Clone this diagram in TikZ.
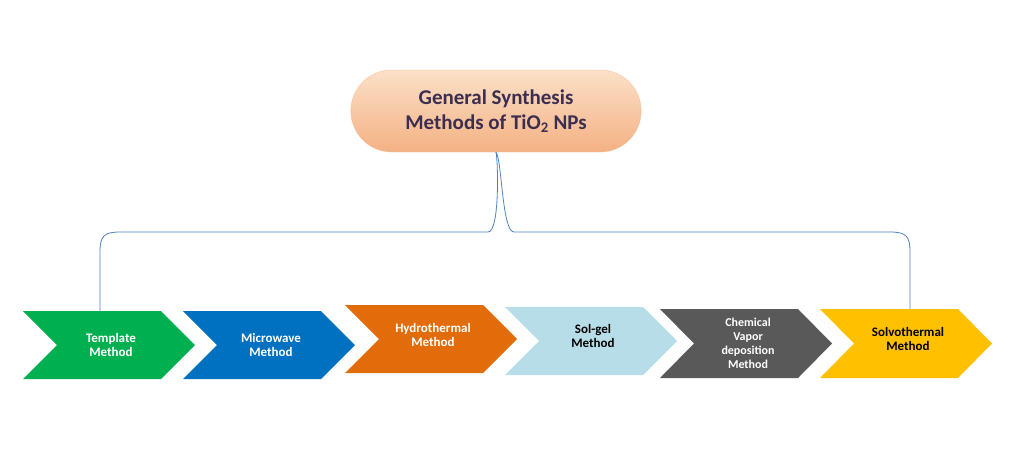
\documentclass[tikz,border=0pt]{standalone}
\usepackage{fontspec}
\setmainfont{Carlito}
\usetikzlibrary{shapes.misc,calc}
\definecolor{peachA}{HTML}{FBE0C8}
\definecolor{peachB}{HTML}{F4B183}
\definecolor{ttl}{HTML}{3B2E50}
\definecolor{cgreen}{HTML}{00B050}
\definecolor{cblue}{HTML}{0070C0}
\definecolor{corange}{HTML}{E36C0A}
\definecolor{clight}{HTML}{B7DEE8}
\definecolor{cgray}{HTML}{595959}
\definecolor{cyellow}{HTML}{FFC000}
\definecolor{lnk}{HTML}{4F81BD}
\begin{document}
\begin{tikzpicture}[x=1pt,y=-1pt,
  lab/.style={font=\bfseries\fontsize{13}{14}\selectfont,text=white,align=center},
  link/.style={draw=lnk,line width=0.8pt}]
\useasboundingbox (0,0) rectangle (1016,469);
\newcommand\chev[5]{% x0 ytop ybot color name
  \fill[#4] (#1,#2) -- ({#1+138},#2) -- ({#1+172},{(#2+#3)/2}) -- ({#1+138},#3) -- (#1,#3) -- ({#1+34},{(#2+#3)/2}) -- cycle;
  \coordinate (#5) at ({#1+88},{(#2+#3)/2});}
\node[rounded rectangle,minimum width=297pt,minimum height=82pt,top color=peachA,bottom color=peachB,draw=peachB!80!white,
  font=\bfseries\fontsize{21}{25}\selectfont,text=ttl,align=center] (top) at (496,111)
  {General Synthesis\\Methods of TiO\textsubscript{2} NPs};
\chev{23}{311}{379}{cgreen}{c1}
\chev{183}{311}{379}{cblue}{c2}
\chev{345}{305}{373}{corange}{c3}
\chev{505}{307}{375}{clight}{c4}
\chev{660}{309}{378}{cgray}{c5}
\chev{820}{309}{378}{cyellow}{c6}
\node[lab] (t1) at (c1) {Template\\Method};
\node[lab] (t2) at (c2) {Microwave\\Method};
\node[lab] (t3) at ($(c3)+(0,-4)$) {Hydrothermal\\Method};
\node[lab,text=black] (t4) at ($(c4)+(0,-5)$) {Sol-gel\\Method};
\node[lab,font=\bfseries\fontsize{12}{14}\selectfont] (t5) at (c5) {Chemical\\Vapor\\deposition\\Method};
\node[lab,text=black] (t6) at ($(c6)+(0,-5)$) {Solvothermal\\Method};
\coordinate (lf) at (100,311);
\coordinate (rf) at (910,309);
\draw[link] (lf) -- (100,252) .. controls (100,236) and (104,232) .. (120,232) -- (488,232)
  .. controls (500,232) and (498,160) .. (top.south);
\draw[link] (rf) -- (910,252) .. controls (910,236) and (906,232) .. (890,232) -- (514,232)
  .. controls (502,232) and (502,160) .. (top.south);
\end{tikzpicture}
\end{document}
